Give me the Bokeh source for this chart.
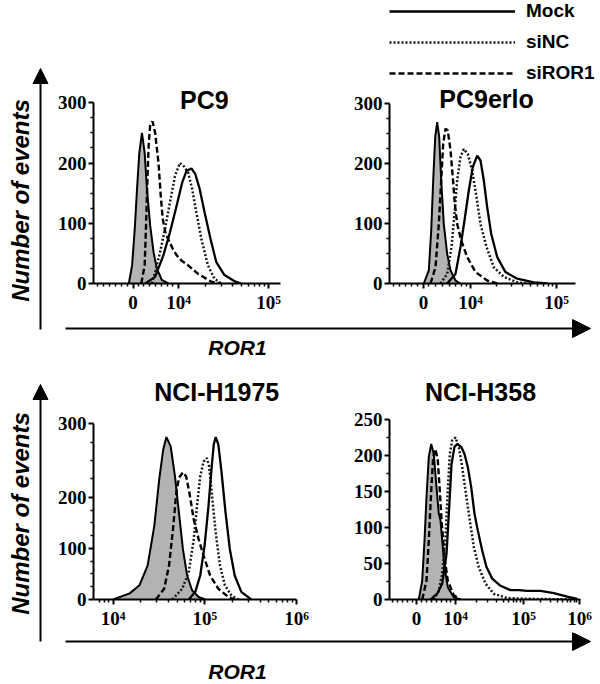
import math
from bokeh.plotting import figure
from bokeh.layouts import row, column
from bokeh.models import FixedTicker, Range1d, Label, Arrow, NormalHead, Legend, LegendItem
from bokeh.embed import file_html
from bokeh.resources import INLINE

# ---------------- data: x = display channel, y = number of events ----------------
SERIES = ["Mock", "siNC", "siROR1"]

# PC9
PC9_CTRL_X = [35.7, 39.0, 41.7, 44.0, 46.3, 49.0, 51.7, 54.0, 57.3, 60.7, 64.0, 69.0, 75.7]
PC9_CTRL_Y = [0, 30, 91, 157, 217, 250, 217, 157, 96, 52, 25, 6, 0]
PC9_MOCK_X = [52.3, 62.3, 70.7, 77.3, 84.0, 89.7, 94.0, 99.0, 103.0, 107.3, 112.3, 118.3, 124.0, 132.3, 142.3, 149.0]
PC9_MOCK_Y = [0, 11, 47, 85, 129, 168, 187, 191, 181, 157, 118, 74, 36, 14, 4, 0]
PC9_SINC_X = [59.0, 62.3, 67.3, 72.3, 77.3, 82.3, 87.3, 91.7, 95.7, 99.7, 104.0, 109.0, 115.7, 122.3, 129.0]
PC9_SINC_Y = [0, 19, 52, 91, 135, 178, 200, 194, 184, 157, 118, 74, 30, 8, 0]
PC9_SIROR1_X = [48.3, 51.7, 53.0, 54.3, 55.7, 57.3, 59.7, 62.3, 65.7, 68.0, 70.0, 73.0, 76.0, 80.0, 84.0, 89.0, 95.7, 105.7, 119.0, 129.0]
PC9_SIROR1_Y = [0, 30, 91, 162, 228, 264, 269, 250, 200, 145, 107, 82, 72, 58, 47, 38, 30, 16, 3, 0]

# PC9erlo
ERLO_CTRL_X = [34.3, 39.3, 41.7, 43.7, 45.7, 47.7, 49.7, 51.7, 54.3, 57.7, 61.0, 66.0, 71.0]
ERLO_CTRL_Y = [0, 22, 88, 172, 244, 269, 244, 172, 99, 49, 22, 5, 0]
ERLO_MOCK_X = [57.7, 66.0, 71.0, 75.0, 79.3, 83.3, 87.7, 91.0, 94.3, 97.7, 101.7, 107.7, 116.0, 127.7, 144.3, 157.7]
ERLO_MOCK_Y = [0, 16, 61, 105, 155, 194, 213, 205, 172, 127, 83, 44, 19, 8, 2, 0]
ERLO_SINC_X = [51.0, 57.7, 62.0, 65.0, 67.7, 71.0, 74.3, 78.3, 82.7, 87.0, 91.0, 97.0, 104.3, 114.3, 127.7, 137.7]
ERLO_SINC_Y = [0, 16, 61, 116, 172, 211, 224, 216, 188, 144, 99, 61, 27, 11, 2, 0]
ERLO_SIROR1_X = [41.0, 46.0, 49.3, 51.7, 53.7, 56.0, 58.3, 61.0, 63.3, 65.3, 67.7, 71.7, 77.7, 86.0, 97.7, 107.7]
ERLO_SIROR1_Y = [0, 27, 99, 172, 233, 258, 255, 222, 177, 133, 99, 72, 44, 19, 5, 0]

# NCI-H1975
H1975_CTRL_X = [20.0, 36.7, 46.7, 55.0, 61.7, 66.7, 70.7, 74.0, 78.3, 82.7, 86.7, 90.7, 95.0, 100.0, 106.7, 113.3]
H1975_CTRL_Y = [0, 12, 28, 67, 144, 235, 293, 318, 300, 241, 170, 99, 47, 18, 5, 0]
H1975_MOCK_X = [96.7, 103.3, 108.3, 112.7, 116.7, 120.0, 122.0, 124.0, 126.7, 130.0, 134.0, 138.3, 143.3, 150.0, 160.0]
H1975_MOCK_Y = [0, 15, 47, 105, 183, 261, 303, 318, 303, 248, 170, 99, 47, 15, 0]
H1975_SINC_X = [80.0, 90.0, 96.7, 101.7, 105.0, 108.3, 111.7, 115.0, 117.3, 120.0, 124.0, 128.3, 133.3, 140.0, 146.7]
H1975_SINC_Y = [0, 21, 54, 118, 183, 241, 270, 277, 261, 209, 131, 67, 28, 8, 0]
H1975_SIROR1_X = [63.3, 71.7, 76.7, 80.7, 84.0, 86.7, 90.7, 94.0, 97.3, 101.7, 106.7, 111.7, 118.3, 126.7, 136.7, 143.3]
H1975_SIROR1_Y = [0, 21, 67, 138, 209, 238, 249, 241, 209, 157, 118, 86, 47, 21, 5, 0]

# NCI-H358
H358_CTRL_X = [29.3, 32.7, 35.0, 37.0, 39.3, 41.7, 44.3, 47.0, 49.3, 51.0, 52.7, 55.0, 58.3, 64.3, 71.0]
H358_CTRL_Y = [0, 26, 82, 142, 198, 216, 202, 156, 119, 110, 82, 45, 17, 3, 0]
H358_MOCK_X = [41.0, 47.7, 52.7, 57.0, 59.7, 62.0, 65.0, 67.7, 71.7, 75.0, 78.3, 81.7, 85.0, 88.3, 92.7, 97.0, 102.7, 111.0, 121.0, 129.3, 137.7, 151.0, 164.3, 177.7, 187.7]
H358_MOCK_Y = [0, 8, 22, 63, 128, 188, 212, 216, 212, 202, 184, 156, 119, 96, 68, 45, 29, 19, 13, 13, 12, 12, 9, 4, 1]
H358_SINC_X = [44.3, 49.3, 52.7, 56.0, 58.3, 60.3, 62.7, 66.0, 69.3, 72.7, 76.0, 80.3, 84.3, 89.3, 96.0, 104.3, 117.7, 137.7, 184.3]
H358_SINC_Y = [0, 12, 36, 87, 151, 202, 221, 225, 212, 184, 151, 110, 73, 45, 22, 8, 2, 1, 0]
H358_SIROR1_X = [32.7, 37.0, 39.3, 41.7, 43.7, 46.0, 48.3, 50.3, 52.3, 55.0, 58.3, 64.3, 71.0]
H358_SIROR1_Y = [0, 26, 82, 151, 198, 209, 193, 151, 105, 59, 26, 6, 0]

# axis ticks (channel positions) and labels
PC9_XTICKS = [40, 86, 177]
ERLO_XTICKS = [34, 81, 167]
H1975_XTICKS = [20, 113, 206]
H358_XTICKS = [27, 66, 134, 190]
BIEX_LABELS = ["0", "10\u2074", "10\u2075"]
LOG_LABELS = ["10\u2074", "10\u2075", "10\u2076"]
H358_LABELS = ["0", "10\u2074", "10\u2075", "10\u2076"]

Y300_TICKS = [0, 100, 200, 300]
H1975_YTICKS = [0, 100, 200, 344]
H1975_YLABELS = ["0", "100", "200", "300"]
H358_YTICKS = [0, 50, 100, 150, 200, 250]


def log_minors(origin, decade, lo, hi):
    out = []
    for d in range(-2, 4):
        for k in range(2, 10):
            v = origin + decade * (d + math.log10(k))
            if lo < v < hi:
                out.append(round(v, 1))
    return out


PC9_XMINOR = [4, 10, 16, 22, 28, 34, 45, 51, 57, 63, 69, 75, 80] + log_minors(86, 91, 86, 189)
ERLO_XMINOR = [4, 10, 16, 22, 28, 39, 46, 53, 60, 66, 72, 77] + log_minors(81, 86, 81, 186)
H1975_XMINOR = log_minors(20, 93, 0, 206)
H358_XMINOR = [3, 8, 13, 18, 23, 32, 37, 42, 47, 52, 57, 61] + log_minors(66, 68, 66, 134) + log_minors(134, 56, 134, 190)

TICK_FONT = "Liberation Serif"
SANS = "Liberation Sans"


def panel(width, height, bl, br, bb, xr, xbound, yr, xt, xl, xm, yt, yl, ym, ytop, curves, title, tx, ty):
    p = figure(width=width, height=height, x_range=Range1d(0, xr), y_range=Range1d(0, yr),
               min_border_left=bl, min_border_right=br, min_border_top=0, min_border_bottom=bb,
               toolbar_location=None, output_backend="svg", title=None)
    p.outline_line_color = None
    p.grid.visible = False
    p.background_fill_color = "white"
    p.border_fill_color = "white"
    cx, cy, mx, my, nx, ny, rx, ry = curves
    p.varea(x=cx, y1=0, y2=cy, fill_color="#b3b3b3")
    p.line(cx, cy, line_color="black", line_width=2.0)
    r_ror = p.line(rx, ry, line_color="black", line_width=2.4, line_dash="6 3")
    r_nc = p.line(nx, ny, line_color="#1a1a1a", line_width=2.5, line_dash="2 2")
    r_mock = p.line(mx, my, line_color="black", line_width=2.3)

    for ax in (p.xaxis[0], p.yaxis[0]):
        ax.axis_line_width = 2
        ax.axis_line_color = "black"
        ax.major_tick_line_width = 2
        ax.minor_tick_line_width = 1.5
        ax.major_tick_in = 0
        ax.major_tick_out = 5
        ax.minor_tick_in = 0
        ax.minor_tick_out = 3
        ax.major_label_text_font = TICK_FONT
        ax.major_label_text_font_style = "bold"
        ax.major_label_text_color = "black"
    xa = p.xaxis[0]
    xa.ticker = FixedTicker(ticks=xt, minor_ticks=xm)
    xa.major_label_overrides = {k: v for k, v in zip(xt, xl)}
    xa.major_label_text_font_size = "19px"
    xa.major_label_standoff = 3
    xa.bounds = (0, xbound)
    ya = p.yaxis[0]
    ya.ticker = FixedTicker(ticks=yt, minor_ticks=ym)
    ya.major_label_overrides = {k: v for k, v in zip(yt, yl)}
    ya.major_label_text_font_size = "19px"
    ya.major_label_standoff = 2
    ya.bounds = (0, ytop)

    p.add_layout(Label(x=tx, y=ty, text=title, text_align="center", text_baseline="middle",
                       text_font=SANS, text_font_style="bold", text_font_size="25px",
                       text_color="black"))
    return p, (r_mock, r_nc, r_ror)


Y300_MINOR = [25, 50, 75, 125, 150, 175, 225, 250, 275]

p1, _ = panel(286, 318, 37, 60, 33, 189, 189, 469.8, PC9_XTICKS, BIEX_LABELS, PC9_XMINOR,
              Y300_TICKS, [str(v) for v in Y300_TICKS], Y300_MINOR, 300,
              (PC9_CTRL_X, PC9_CTRL_Y, PC9_MOCK_X, PC9_MOCK_Y, PC9_SINC_X, PC9_SINC_Y, PC9_SIROR1_X, PC9_SIROR1_Y),
              "PC9", 112, 305)
p2, leg_r = panel(260, 318, 49, 0, 35, 211, 186, 471.7, ERLO_XTICKS, BIEX_LABELS, ERLO_XMINOR,
                  Y300_TICKS, [str(v) for v in Y300_TICKS], Y300_MINOR, 300,
                  (ERLO_CTRL_X, ERLO_CTRL_Y, ERLO_MOCK_X, ERLO_MOCK_Y, ERLO_SINC_X, ERLO_SINC_Y, ERLO_SIROR1_X, ERLO_SIROR1_Y),
                  "PC9erlo", 97, 308)
p3, _ = panel(286, 274, 36, 44, 31, 206, 206, 471.8, H1975_XTICKS, LOG_LABELS, H1975_XMINOR,
              H1975_YTICKS, H1975_YLABELS, [25, 50, 75, 125, 150, 175, 236, 272, 308], 344,
              (H1975_CTRL_X, H1975_CTRL_Y, H1975_MOCK_X, H1975_MOCK_Y, H1975_SINC_X, H1975_SINC_Y, H1975_SIROR1_X, H1975_SIROR1_Y),
              "NCI-H1975", 125, 406)
p4, _ = panel(260, 274, 49, 20, 33, 191, 191, 334.7, H358_XTICKS, H358_LABELS, H358_XMINOR,
              H358_YTICKS, [str(v) for v in H358_YTICKS], [25, 75, 125, 175, 225], 250,
              (H358_CTRL_X, H358_CTRL_Y, H358_MOCK_X, H358_MOCK_Y, H358_SINC_X, H358_SINC_Y, H358_SIROR1_X, H358_SIROR1_Y),
              "NCI-H358", 91, 287.5)

legend = Legend(items=[LegendItem(label=SERIES[i], renderers=[leg_r[i]]) for i in range(3)],
                location="top_left", orientation="vertical", margin=0, padding=3,
                glyph_width=126, glyph_height=20, label_height=20, label_standoff=11, spacing=9,
                border_line_color=None, background_fill_alpha=0,
                label_text_font=SANS, label_text_font_style="bold", label_text_font_size="19px",
                label_text_color="black")
p2.add_layout(legend)


def deco(width, height, x0, x1, y0, y1):
    f = figure(width=width, height=height, x_range=Range1d(x0, x1), y_range=Range1d(y1, y0),
               min_border_left=0, min_border_right=0, min_border_top=0, min_border_bottom=0,
               x_axis_location=None, y_axis_location=None, toolbar_location=None,
               output_backend="svg", title=None)
    f.outline_line_color = None
    f.grid.visible = False
    return f


# left strip: vertical arrows + y titles
left = deco(54, 684, 0, 54, 0, 684)
for yb, yt, yc in ((329, 68, 200), (641, 384, 513)):
    left.add_layout(Arrow(end=NormalHead(size=15, fill_color="black", line_color="black"),
                          x_start=40, y_start=yb, x_end=40, y_end=yt,
                          line_width=2, line_color="black"))
    left.add_layout(Label(x=20, y=yc, text="Number of events", angle=math.pi / 2,
                          text_align="center", text_baseline="middle", text_font=SANS,
                          text_font_style="bold italic", text_font_size="24px", text_color="black"))

arrow1 = deco(546, 40, 54, 600, 318, 358)
arrow2 = deco(546, 52, 54, 600, 632, 684)
for f, ya, yl in ((arrow1, 328, 347), (arrow2, 641, 671)):
    f.add_layout(Arrow(end=NormalHead(size=18, fill_color="black", line_color="black"),
                       x_start=65, y_start=ya, x_end=590, y_end=ya, line_width=2, line_color="black"))
    f.add_layout(Label(x=237, y=yl, text="ROR1", text_align="center", text_baseline="middle",
                       text_font=SANS, text_font_style="bold italic", text_font_size="21px",
                       text_color="black"))

layout = row(left, column(row(p1, p2), arrow1, row(p3, p4), arrow2))

with open("out.html", "w", encoding="utf-8") as fh:
    fh.write(file_html(layout, INLINE, "ROR1 flow cytometry"))
